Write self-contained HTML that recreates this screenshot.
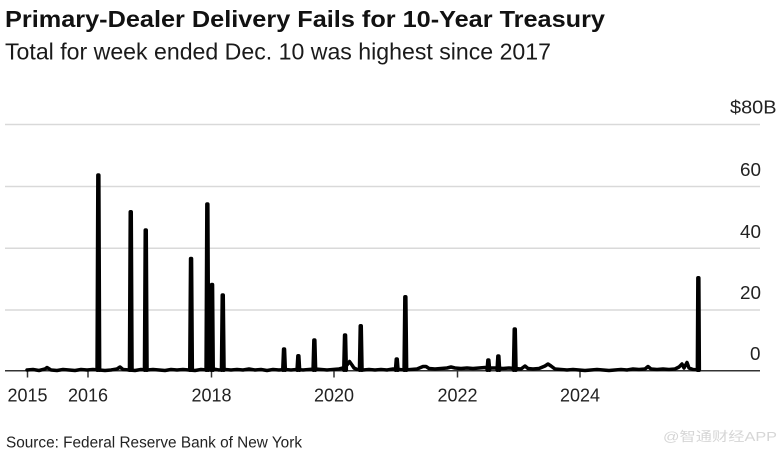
<!DOCTYPE html>
<html>
<head>
<meta charset="utf-8">
<style>
html,body{margin:0;padding:0;background:#fff;}
svg{display:block;}
text{font-family:"Liberation Sans","Noto Sans CJK SC",sans-serif;}
</style>
</head>
<body>
<svg width="782" height="457" viewBox="0 0 782 457" xmlns="http://www.w3.org/2000/svg">
<rect x="0" y="0" width="782" height="457" fill="#ffffff"/>

<text x="5" y="27" font-size="23" font-weight="bold" fill="#111" textLength="600" lengthAdjust="spacingAndGlyphs">Primary-Dealer Delivery Fails for 10-Year Treasury</text>
<text x="5" y="59.5" font-size="23" fill="#1a1a1a" textLength="546" lengthAdjust="spacingAndGlyphs">Total for week ended Dec. 10 was highest since 2017</text>

<!-- gridlines -->
<g stroke="#d9d9d9" stroke-width="1.5">
<line x1="5" y1="124.5" x2="760" y2="124.5"/>
<line x1="5" y1="186.5" x2="760" y2="186.5"/>
<line x1="5" y1="248.2" x2="760" y2="248.2"/>
<line x1="5" y1="310" x2="760" y2="310"/>
</g>

<!-- y labels -->
<g font-size="18" fill="#222">
<text x="730" y="113.3" textLength="46.5" lengthAdjust="spacingAndGlyphs">$80B</text>
<text x="740" y="176" textLength="21" lengthAdjust="spacingAndGlyphs">60</text>
<text x="740" y="238" textLength="21" lengthAdjust="spacingAndGlyphs">40</text>
<text x="740" y="299" textLength="21" lengthAdjust="spacingAndGlyphs">20</text>
<text x="750" y="360" textLength="10.5" lengthAdjust="spacingAndGlyphs">0</text>
</g>

<!-- axis -->
<line x1="5" y1="370.8" x2="760" y2="370.8" stroke="#333" stroke-width="1.5"/>
<g stroke="#333" stroke-width="1.5">
<line x1="27.5" y1="371" x2="27.5" y2="377.5"/>
<line x1="88" y1="371" x2="88" y2="377.5"/>
<line x1="211.5" y1="371" x2="211.5" y2="377.5"/>
<line x1="334" y1="371" x2="334" y2="377.5"/>
<line x1="457.5" y1="371" x2="457.5" y2="377.5"/>
<line x1="580" y1="371" x2="580" y2="377.5"/>
</g>

<!-- x labels -->
<g font-size="18" fill="#222">
<text x="7.5" y="401.5" textLength="40" lengthAdjust="spacingAndGlyphs">2015</text>
<text x="68" y="401.5" textLength="40" lengthAdjust="spacingAndGlyphs">2016</text>
<text x="191.5" y="401.5" textLength="40" lengthAdjust="spacingAndGlyphs">2018</text>
<text x="314" y="401.5" textLength="40" lengthAdjust="spacingAndGlyphs">2020</text>
<text x="437.5" y="401.5" textLength="40" lengthAdjust="spacingAndGlyphs">2022</text>
<text x="560" y="401.5" textLength="40" lengthAdjust="spacingAndGlyphs">2024</text>
</g>

<!-- data baseline -->
<polyline fill="none" stroke="#000" stroke-width="3.5" stroke-linejoin="round" stroke-linecap="round"
points="27,370 33,369.5 39,370.5 45,369 47,367.5 51,370 57,370.5 63,369.5 69,370 75,370.5 81,369.5 87,370 93,369.5 99,370 105,370.5 111,370 117,369 120,367 123,369.5 129,370 135,370.5 141,369.5 147,370 153,369.5 159,370 165,370.5 171,369.5 177,370 183,369.5 189,370 195,370.5 201,369.5 207,370 213,369 219,370 225,369.5 231,370 237,369.5 243,370 249,369 255,370 261,369.5 267,370.5 273,369.5 279,370 285,369.5 291,370 297,369.5 303,370 309,369.5 315,369 321,369.5 327,370 333,369.5 339,369 343,368 347,365 349.5,361.5 352,365 354,368 357,369.5 363,370 369,369.5 375,370 381,369.5 387,370 393,369 399,369.5 405,370 411,369.5 417,369 423,366.5 426,366.5 429,368.5 435,369 441,368.5 447,368 451,367 455,368 461,368.5 467,368 473,368.5 479,368 485,367.5 491,368 497,368 503,368.5 509,368 515,368.5 521,369 525,366 528,368.5 533,369 539,368.5 545,366 548,364 551,366 555,369 561,369.5 567,370 573,369.5 579,370 585,370.5 591,370 597,369.5 603,370 609,370.5 615,370 621,369.5 627,370 633,369 639,369.5 645,369 648,366.5 651,369 657,369.5 663,369 669,369.5 675,369 679,367 682,364 684,368 687,362.5 689,368 693,369.5 699,370"/>

<!-- spikes -->
<path fill="none" stroke="#000" stroke-width="4" stroke-linejoin="round" stroke-linecap="round" d="
M97.3,370 L98.1,175.3 L98.6,175.3 L99.4,370
M129.7,370 L130.5,212 L131,212 L131.8,370
M144.7,370 L145.5,230.3 L146,230.3 L146.8,370
M190,370 L190.8,258.7 L191.3,258.7 L192.1,370
M206.3,370 L207.1,204.3 L207.6,204.3 L208.4,370
M211.2,370 L211.8,284.7 L212.3,284.7 L213,370
M221.7,370 L222.5,295.3 L223,295.3 L223.8,370
M283,370 L283.8,349.3 L284.3,349.3 L285.1,370
M297.3,370 L298.1,356 L298.6,356 L299.4,370
M313.3,370 L314.1,340.3 L314.6,340.3 L315.4,370
M344,370 L344.8,335.3 L345.3,335.3 L346.1,370
M359.7,370 L360.5,326 L361,326 L361.8,370
M395.7,370 L396.5,359.3 L397,359.3 L397.8,370
M404.3,370 L405.1,297 L405.6,297 L406.4,370
M487.3,370 L488.1,360.3 L488.6,360.3 L489.4,370
M497.3,370 L498.1,356.3 L498.6,356.3 L499.4,370
M513.7,370 L514.5,329.3 L515,329.3 L515.8,370
M697.6,370 L698.1,278 L698.6,278 L699.1,370
"/>

<text x="6" y="447.7" font-size="15.5" fill="#222" textLength="296" lengthAdjust="spacingAndGlyphs">Source: Federal Reserve Bank of New York</text>
<text x="663" y="441" font-size="13" fill="#d6d6d6" textLength="114" lengthAdjust="spacingAndGlyphs">@智通财经APP</text>
</svg>
</body>
</html>
